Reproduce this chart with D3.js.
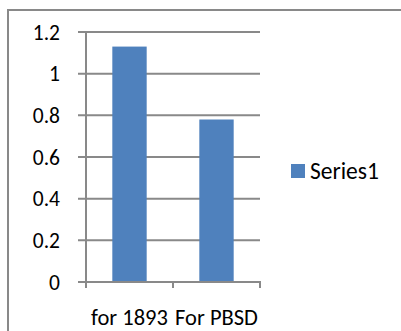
<!DOCTYPE html>
<html>
<head>
<meta charset="utf-8">
<script src="https://cdn.jsdelivr.net/npm/d3@7"></script>
<style>
  html, body { margin: 0; padding: 0; background: #fff; }
  svg { display: block; }
  text { font-family: Carlito, Lato, "Noto Sans", sans-serif; fill: #000; }
</style>
</head>
<body>
<svg id="chart" width="401" height="331"></svg>
<script>
// Chart data
const categories = ["for 1893", "For PBSD"];
const series1 = [1.13, 0.78];
const yTicks = [0, 0.2, 0.4, 0.6, 0.8, 1, 1.2];
const seriesName = "Series1";

const W = 401, H = 331;
const plot = { left: 86, right: 260, top: 32, bottom: 282 };
const gray = "#898989";
const barColor = "#4F81BD";

const svg = d3.select("#chart");

// Outer chart frame (runs past the right and bottom edges)
svg.append("rect")
  .attr("x", 8).attr("y", 10)
  .attr("width", W + 10).attr("height", H + 10)
  .attr("fill", "#fff")
  .attr("stroke", gray).attr("stroke-width", 2);

const y = d3.scaleLinear().domain([0, 1.2]).range([plot.bottom, plot.top]);
const x = d3.scaleBand().domain(categories)
  .range([plot.left, plot.right])
  .paddingInner(0.605).paddingOuter(0.3025);

// Horizontal gridlines with left tick stubs
svg.append("g").selectAll("line")
  .data(yTicks.filter(d => d > 0))
  .join("line")
  .attr("x1", plot.left - 8).attr("x2", plot.right)
  .attr("y1", d => y(d)).attr("y2", d => y(d))
  .attr("stroke", gray).attr("stroke-width", 2);

// Y-axis labels
svg.append("g").selectAll("text")
  .data(yTicks)
  .join("text")
  .attr("x", 60)
  .attr("y", d => y(d))
  .attr("dy", "0.36em")
  .attr("text-anchor", "end")
  .attr("font-size", 21.5)
  .text(d => d3.format("")(d));

// Bars
svg.append("g").selectAll("rect")
  .data(series1)
  .join("rect")
  .attr("x", (d, i) => x(categories[i]))
  .attr("width", x.bandwidth())
  .attr("y", d => y(d))
  .attr("height", d => y(0) - y(d))
  .attr("fill", barColor);

// Y axis line
svg.append("line")
  .attr("x1", plot.left).attr("x2", plot.left)
  .attr("y1", plot.top).attr("y2", plot.bottom + 6)
  .attr("stroke", gray).attr("stroke-width", 2);

// X axis line with tick marks at category boundaries
svg.append("line")
  .attr("x1", plot.left - 8).attr("x2", plot.right + 1)
  .attr("y1", plot.bottom).attr("y2", plot.bottom)
  .attr("stroke", gray).attr("stroke-width", 2);
const bounds = categories.map((c, i) => plot.left + i * x.step());
bounds.push(plot.right);
svg.append("g").selectAll("line")
  .data(bounds)
  .join("line")
  .attr("x1", d => d).attr("x2", d => d)
  .attr("y1", plot.bottom).attr("y2", plot.bottom + 6)
  .attr("stroke", gray).attr("stroke-width", 2);

// Category labels
svg.append("g").selectAll("text")
  .data(categories)
  .join("text")
  .attr("x", d => x(d) + x.bandwidth() / 2)
  .attr("y", 325)
  .attr("text-anchor", "middle")
  .attr("font-size", 22.5)
  .text(d => d);

// Legend
const legend = svg.append("g").attr("transform", "translate(291,164)");
legend.append("rect").attr("width", 14).attr("height", 14).attr("fill", barColor);
legend.append("text")
  .attr("x", 19).attr("y", 7).attr("dy", "0.36em")
  .attr("font-size", 23.5)
  .text(seriesName);
</script>
</body>
</html>
